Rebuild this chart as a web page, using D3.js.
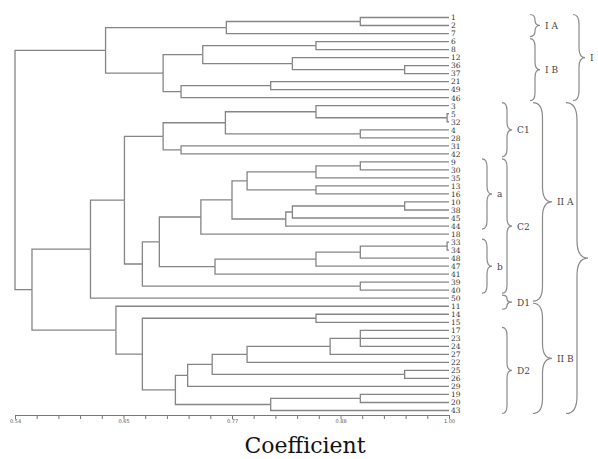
<!DOCTYPE html>
<html>
<head>
<meta charset="utf-8">
<script src="https://d3js.org/d3.v7.min.js"></script>
<style>
body { margin: 0; background: #fff; }
</style>
</head>
<body>
<svg id="chart" width="598" height="459"></svg>
<script>
// leaf order, top to bottom
var leaves = ["1","2","7","6","8","12","36","37","21","49","46",
  "3","5","32","4","28","31","42","9","30","35","13","16","10","38","45","44","18",
  "33","34","48","47","41","39","40","50","11","14","15",
  "17","23","24","27","22","25","26","29","19","20","43"];

// merges: [node id, children (top to bottom), coefficient]
var merges = [
  ["a1", ["1","2"], 0.906],
  ["IA", ["a1","7"], 0.764],
  ["b1", ["6","8"], 0.859],
  ["b2", ["36","37"], 0.953],
  ["b3", ["12","b2"], 0.834],
  ["b4", ["b1","b3"], 0.739],
  ["b5", ["21","49"], 0.811],
  ["b6", ["b5","46"], 0.716],
  ["IB", ["b4","b6"], 0.697],
  ["I", ["IA","IB"], 0.636],
  ["c1", ["5","32"], 0.998],
  ["c2", ["3","c1"], 0.859],
  ["c3", ["4","28"], 0.906],
  ["c4", ["c2","c3"], 0.763],
  ["c5", ["31","42"], 0.716],
  ["C1", ["c4","c5"], 0.697],
  ["d1", ["9","30"], 0.906],
  ["d2", ["d1","35"], 0.859],
  ["d3", ["13","16"], 0.859],
  ["d4", ["d2","d3"], 0.786],
  ["d5", ["10","38"], 0.953],
  ["d6", ["d5","45"], 0.834],
  ["d7", ["d6","44"], 0.827],
  ["d8", ["d4","d7"], 0.770],
  ["d9", ["d8","18"], 0.737],
  ["e1", ["33","34"], 0.998],
  ["e2", ["e1","48"], 0.906],
  ["e3", ["e2","47"], 0.859],
  ["e4", ["e3","41"], 0.752],
  ["e5", ["d9","e4"], 0.693],
  ["e6", ["39","40"], 0.906],
  ["C2", ["e5","e6"], 0.675],
  ["f1", ["C1","C2"], 0.656],
  ["IIA", ["f1","50"], 0.620],
  ["g1", ["14","15"], 0.859],
  ["g2", ["17","23","24"], 0.906],
  ["g3", ["g2","27"], 0.874],
  ["g4", ["g3","22"], 0.786],
  ["g5", ["25","26"], 0.953],
  ["g6", ["g4","g5"], 0.749],
  ["g7", ["g6","29"], 0.723],
  ["g8", ["19","20"], 0.906],
  ["g9", ["g8","43"], 0.811],
  ["g10", ["g7","g9"], 0.710],
  ["g11", ["g1","g10"], 0.675],
  ["IIB", ["11","g11"], 0.647],
  ["II", ["IIA","IIB"], 0.558],
  ["root", ["I","II"], 0.540]
];

var tickLabels = ["0.54","0.65","0.77","0.88","1.00"];

// bracket groups
var groupNames = ["I A","I B","I","C1","a","b","C2","D1","D2","II A","II B",""];
var groupFirst = ["1","6","1","3","9","33","9","50","17","3","11","3"];
var groupLast  = ["7","46","46","42","44","40","40","11","43","50","43","43"];
var groupCol   = [2,2,4,1,0,0,1,1,1,3,3,5];

var serif = "'DejaVu Serif', serif";
var svg = d3.select("#chart");

var x = d3.scaleLinear().domain([0.54, 1.00]).range([15, 449]);
var y = d3.scalePoint().domain(leaves).range([17.5, 410.5]);

// build tree
var nodes = {};
leaves.forEach(function(l){ nodes[l] = {name: l, level: 1.0}; });
merges.forEach(function(m){
  nodes[m[0]] = {name: m[0], level: m[2], children: m[1].map(function(c){ return nodes[c]; })};
});
var root = d3.hierarchy(nodes["root"]);
root.eachAfter(function(n){
  n.px = x(n.data.level);
  n.py = n.children ? d3.mean(n.children, function(c){ return c.py; }) : y(n.data.name);
});

svg.append("g").selectAll("path")
  .data(root.descendants().filter(function(n){ return n.parent; }))
  .enter().append("path")
  .attr("fill", "none")
  .attr("stroke", "#858585")
  .attr("stroke-width", 1.3)
  .attr("d", function(n){
    return "M" + n.px + "," + n.py + "H" + n.parent.px + "V" + n.parent.py;
  });

svg.append("g").selectAll("text")
  .data(root.leaves())
  .enter().append("text")
  .attr("x", 451)
  .attr("y", function(n){ return n.py + 2.8; })
  .attr("font-family", serif)
  .attr("font-size", 7.5)
  .attr("fill", "#333")
  .text(function(n){ return n.data.name; });

// axis
var minor = d3.range(21).map(function(i){ return 0.54 + i * 0.023; });
var axis = svg.append("g")
  .attr("transform", "translate(0,415)")
  .call(d3.axisBottom(x).tickValues(minor).tickSize(4).tickSizeOuter(0)
    .tickFormat(function(d, i){ return i % 5 === 0 ? tickLabels[i / 5] : ""; }));
axis.select(".domain").attr("stroke", "#777");
axis.selectAll(".tick line").attr("stroke", "#777");
axis.selectAll(".tick text").attr("font-size", 5).attr("fill", "#555")
  .attr("font-family", "'DejaVu Sans', sans-serif").attr("dy", "0.2em");

svg.append("text")
  .attr("x", 305).attr("y", 453)
  .attr("text-anchor", "middle")
  .attr("font-family", serif)
  .attr("font-size", 22)
  .attr("fill", "#111")
  .text("Coefficient");

// braces
var colX = [482, 502, 530, 533, 573, 566];
var colW = [10, 10, 10, 19, 12, 22];
function brace(x0, y0, y1, w) {
  var ym = (y0 + y1) / 2, h = w / 2, r = Math.min(w * 0.8, (y1 - y0) / 4);
  return "M" + x0 + "," + y0 + " Q" + (x0 + h) + "," + y0 + " " + (x0 + h) + "," + (y0 + r) +
    " L" + (x0 + h) + "," + (ym - r) + " Q" + (x0 + h) + "," + ym + " " + (x0 + w) + "," + ym +
    " Q" + (x0 + h) + "," + ym + " " + (x0 + h) + "," + (ym + r) +
    " L" + (x0 + h) + "," + (y1 - r) + " Q" + (x0 + h) + "," + y1 + " " + x0 + "," + y1;
}
var bg = svg.append("g");
groupNames.forEach(function(name, i){
  var c = groupCol[i];
  var y0 = y(groupFirst[i]) - 3, y1 = y(groupLast[i]) + 3;
  bg.append("path")
    .attr("d", brace(colX[c], y0, y1, colW[c]))
    .attr("fill", "none").attr("stroke", "#8a8a8a").attr("stroke-width", 1.2);
  bg.append("text")
    .attr("x", colX[c] + colW[c] + 5)
    .attr("y", (y0 + y1) / 2 + 3.5)
    .attr("font-family", serif)
    .attr("font-size", 9)
    .attr("fill", "#444")
    .text(name);
});
</script>
</body>
</html>
